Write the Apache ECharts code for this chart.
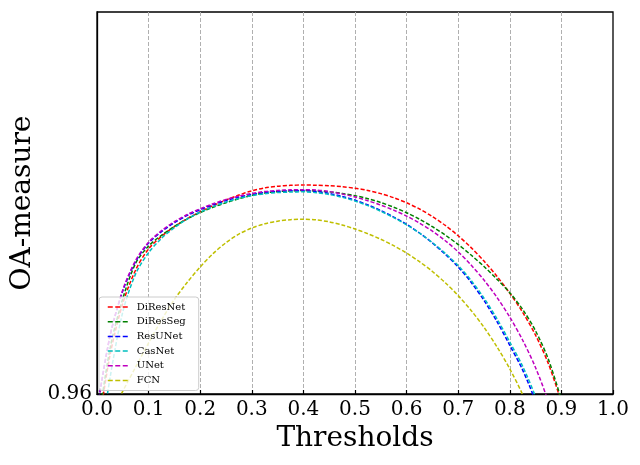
<!DOCTYPE html>
<html>
<head>
<meta charset="utf-8">
<script src="https://cdn.jsdelivr.net/npm/echarts@6/dist/echarts.min.js"></script>
<style>
  html, body { margin: 0; padding: 0; background: #fff; }
  #chart { width: 640px; height: 465px; }
</style>
</head>
<body>
<div id="chart"></div>
<script>
// thresholds (x), step 0.025, shared by all curves
var thresholds = [0, 0.025, 0.05, 0.075, 0.1, 0.125, 0.15, 0.175, 0.2, 0.225, 0.25, 0.275,
    0.3, 0.325, 0.35, 0.375, 0.4, 0.425, 0.45, 0.475, 0.5, 0.525, 0.55, 0.575,
    0.6, 0.625, 0.65, 0.675, 0.7, 0.725, 0.75, 0.775, 0.8, 0.825, 0.85, 0.875, 0.9];

// OA-measure per method (points below 0.96 are clipped)
var diResNet = [0.95550, 0.96400, 0.96950, 0.97300, 0.97520, 0.97650, 0.97753, 0.97837, 0.97909, 0.97973,
    0.98031, 0.98083, 0.98128, 0.98158, 0.98176, 0.98185, 0.98188, 0.98186, 0.98181, 0.98171,
    0.98155, 0.98131, 0.98098, 0.98056, 0.98002, 0.97937, 0.97858, 0.97765, 0.97657, 0.97533,
    0.97392, 0.97233, 0.97055, 0.96855, 0.96615, 0.96315, 0.95915];
var diResSeg = [0.95600, 0.96470, 0.97000, 0.97370, 0.97550, 0.97662, 0.97754, 0.97834, 0.97900, 0.97955,
    0.98003, 0.98045, 0.98080, 0.98105, 0.98119, 0.98127, 0.98130, 0.98126, 0.98117, 0.98100,
    0.98077, 0.98045, 0.98005, 0.97956, 0.97898, 0.97830, 0.97752, 0.97664, 0.97565, 0.97455,
    0.97335, 0.97203, 0.97060, 0.96885, 0.96660, 0.96360, 0.95940];
var resUNet = [0.95830, 0.96600, 0.97080, 0.97390, 0.97580, 0.97700, 0.97794, 0.97870, 0.97930, 0.97982,
    0.98026, 0.98062, 0.98090, 0.98110, 0.98122, 0.98128, 0.98130, 0.98120, 0.98100, 0.98070,
    0.98030, 0.97980, 0.97921, 0.97853, 0.97776, 0.97686, 0.97581, 0.97463, 0.97330, 0.97170,
    0.96980, 0.96760, 0.96510, 0.96250, 0.95920, 0.95520, 0.95020];
var casNet = [0.95260, 0.96160, 0.96860, 0.97260, 0.97480, 0.97630, 0.97742, 0.97832, 0.97904, 0.97962,
    0.98010, 0.98048, 0.98077, 0.98097, 0.98109, 0.98115, 0.98117, 0.98108, 0.98089, 0.98060,
    0.98021, 0.97972, 0.97914, 0.97847, 0.97772, 0.97685, 0.97585, 0.97472, 0.97344, 0.97189,
    0.97004, 0.96789, 0.96544, 0.96289, 0.95969, 0.95569, 0.95069];
var uNet = [0.95830, 0.96605, 0.97090, 0.97400, 0.97590, 0.97710, 0.97804, 0.97880, 0.97940, 0.97992,
    0.98036, 0.98072, 0.98100, 0.98120, 0.98132, 0.98138, 0.98140, 0.98135, 0.98120, 0.98095,
    0.98063, 0.98023, 0.97978, 0.97925, 0.97863, 0.97790, 0.97705, 0.97605, 0.97488, 0.97350,
    0.97193, 0.97013, 0.96805, 0.96563, 0.96275, 0.95913, 0.95438];
var fcn = [0.95500, 0.95770, 0.96030, 0.96283, 0.96535, 0.96775, 0.96990, 0.97170, 0.97330, 0.97470,
    0.97585, 0.97675, 0.97738, 0.97782, 0.97810, 0.97825, 0.97830, 0.97823, 0.97803, 0.97770,
    0.97728, 0.97678, 0.97620, 0.97553, 0.97475, 0.97385, 0.97283, 0.97165, 0.97030, 0.96875,
    0.96698, 0.96495, 0.96263, 0.95993, 0.95673, 0.95285, 0.94810];

var names = ['DiResNet', 'DiResSeg', 'ResUNet', 'CasNet', 'UNet', 'FCN'];
var colors = ['#ff0000', '#008000', '#0000ff', '#00bfbf', '#bf00bf', '#bfbf00'];
var values = [diResNet, diResSeg, resUNet, casNet, uNet, fcn];

var yTickLabels = ['0.96'];

var font = 'DejaVu Serif';

function pairs(ys) {
    return thresholds.map(function (x, i) { return [x, ys[i]]; });
}

var chart = echarts.init(document.getElementById('chart'));

var option = {
    backgroundColor: '#fff',
    animation: false,
    grid: {
        left: 97, right: 27, top: 12, bottom: 71,
        show: true, borderColor: '#000', borderWidth: 1.3
    },
    legend: {
        orient: 'vertical',
        left: 99, top: 297,
        itemWidth: 20, itemHeight: 8, itemGap: 2.7,
        padding: [4, 13, 4, 8],
        backgroundColor: 'rgba(255,255,255,0.8)',
        borderColor: '#cccccc', borderWidth: 1, borderRadius: 3,
        itemStyle: { opacity: 0 },
        lineStyle: { width: 1.5, type: [5, 2.5] },
        textStyle: { fontFamily: font, fontSize: 10, color: '#000', lineHeight: 12, padding: [0, 0, 0, 4] },
        data: names
    },
    xAxis: {
        type: 'value', min: 0, max: 1, interval: 0.1,
        name: 'Thresholds', nameLocation: 'middle', nameGap: 30,
        nameTextStyle: { fontFamily: font, fontSize: 28, color: '#000' },
        axisLine: { show: true, lineStyle: { color: '#000', width: 1.3 } },
        axisTick: { show: true, inside: true, length: 4, lineStyle: { color: '#000', width: 1.2 } },
        axisLabel: {
            fontFamily: font, fontSize: 20, color: '#000', margin: 6,
            formatter: function (v) { return v.toFixed(1); }
        },
        splitLine: {
            show: true, showMinLine: false, showMaxLine: false,
            lineStyle: { color: '#b0b0b0', width: 1, type: [4, 2] }
        }
    },
    yAxis: {
        type: 'value', min: 0.96, max: 1.0, interval: 0.04,
        name: 'OA-measure', nameLocation: 'middle', nameGap: 60,
        nameTextStyle: { fontFamily: font, fontSize: 28, color: '#000' },
        axisLine: { show: true, lineStyle: { color: '#000', width: 1.3 } },
        axisTick: { show: false },
        axisLabel: {
            fontFamily: font, fontSize: 20, color: '#000', margin: 5,
            formatter: function (v) { return v < 0.961 ? yTickLabels[0] : ''; }
        },
        splitLine: { show: false }
    },
    series: names.map(function (n, i) {
        return {
            name: n,
            type: 'line',
            data: pairs(values[i]),
            smooth: 0.3,
            symbol: 'none',
            clip: true,
            color: colors[i],
            lineStyle: { color: colors[i], width: 1.5, type: [4, 2] }
        };
    })
};

chart.setOption(option);
</script>
</body>
</html>
